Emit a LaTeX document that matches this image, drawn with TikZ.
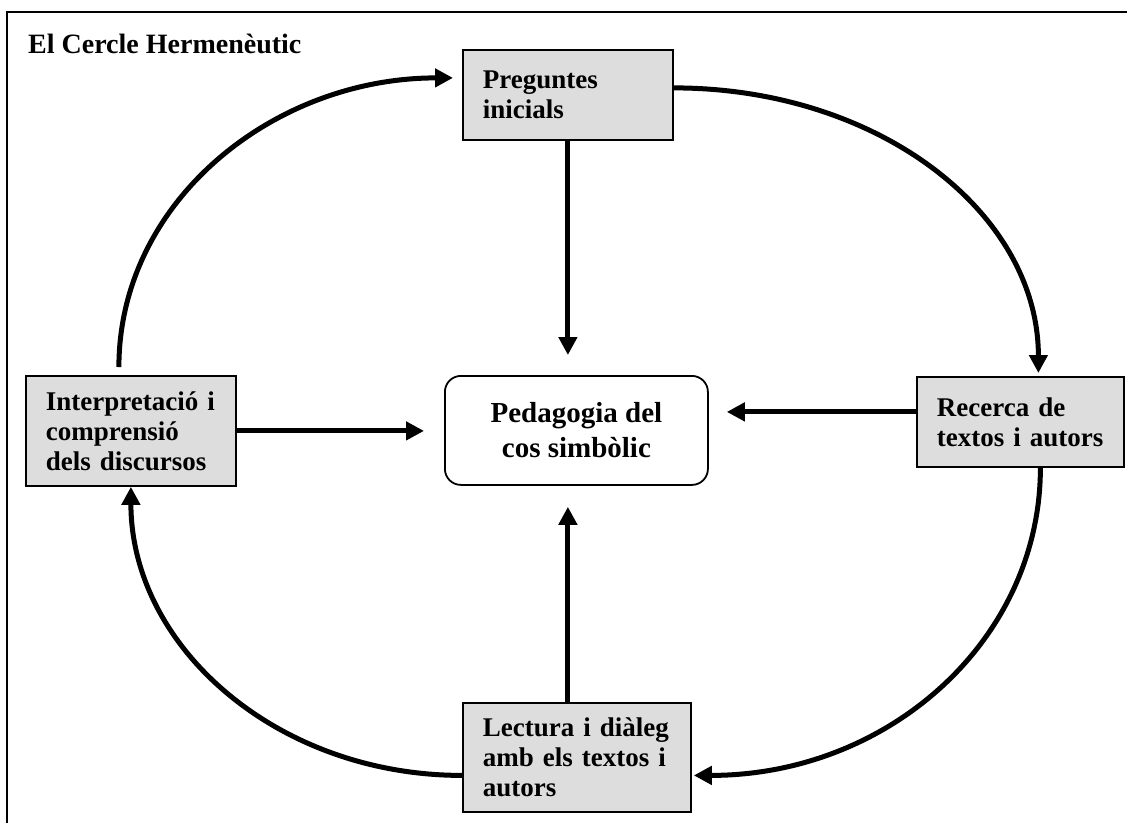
\documentclass[tikz,border=0pt]{standalone}
\usepackage{fontspec}
\setmainfont{Liberation Serif}
\usetikzlibrary{arrows.meta,calc}
\definecolor{boxgray}{RGB}{221,221,221}
\tikzset{
  stage/.style={draw, line width=1.8pt, fill=boxgray, inner xsep=20pt, inner ysep=0pt,
    align=left, anchor=north west, font=\bfseries\fontsize{27}{30}\selectfont},
  core/.style={draw, line width=1.8pt, rounded corners=16pt, inner sep=0pt,
    align=center, anchor=north west, font=\bfseries\fontsize{29}{35}\selectfont},
  flow/.style={line width=5pt, -{Triangle[length=18pt,width=18pt]}},
}
\begin{document}
\begin{tikzpicture}[x=1pt,y=-1pt]
\useasboundingbox (0,0) rectangle (1127,823);
% open frame: top and left rules
\draw[line width=1.8pt] (1127,12) -- (7,12) -- (7,823);
\node[anchor=base west, inner sep=0pt, font=\bfseries\fontsize{28}{30}\selectfont]
  (title) at (28,53) {El Cercle Hermenèutic};

% stages of the circle
\node[stage, text width=170pt, minimum height=90pt] (pq) at (462,49) {Preguntes\\inicials};
\node[stage, text width=170pt, minimum height=110pt] (int) at (25,375) {Interpretació i\\comprensió\\dels discursos};
\node[stage, text width=167pt, minimum height=90pt] (rec) at (916,376) {Recerca de\\textos i autors};
\node[stage, text width=188pt, minimum height=109pt] (lec) at (462,702) {Lectura i diàleg\\amb els textos i\\autors};
\node[core, minimum width=263pt, minimum height=109pt] (ped) at (444,375) {Pedagogia del\\cos simbòlic};

% radial arrows towards the centre
\draw[flow, shorten >=20pt] (pq.south) -- (pq.south |- ped.north);
\draw[flow, shorten >=20pt] (int.east) -- (int.east -| ped.west);
\draw[flow, shorten >=18pt] ([yshift=10pt]rec.west) -- ([yshift=10pt]rec.west -| ped.east);
\draw[flow, shorten >=21pt] (pq.south |- lec.north) -- (pq.south |- ped.south);

% the hermeneutic circle
\draw[flow] ([xshift=-12pt,yshift=8pt]int.north) .. controls +(0,-165) and +(-180,0) .. ([xshift=-9pt,yshift=17pt]pq.west);
\draw[flow] ([yshift=7pt]pq.east) .. controls +(205,0) and +(0,-160) .. ([xshift=18pt,yshift=3pt]rec.north);
\draw[flow] ([xshift=20pt]rec.south) .. controls +(0,172) and +(195,0) .. ([xshift=2pt,yshift=-18pt]lec.east);
\draw[flow] ([yshift=-18pt]lec.west) .. controls +(-185,0) and +(0,160) .. (int.south);
\end{tikzpicture}
\end{document}
